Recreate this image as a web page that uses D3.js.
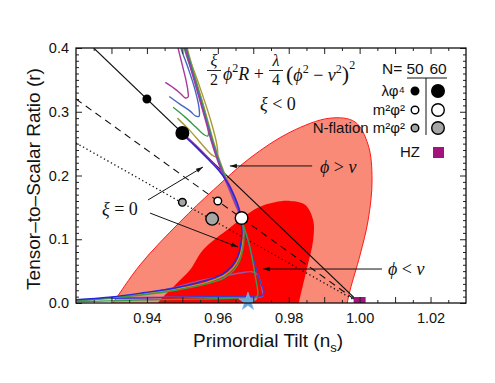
<!DOCTYPE html>
<html>
<head>
<meta charset="utf-8">
<script src="https://cdn.jsdelivr.net/npm/d3@7/dist/d3.min.js"></script>
<style>
  body { margin: 0; background: #fff; }
  text { font-family: "Liberation Sans", Arial, sans-serif; fill: #111; }
  .math { font-family: "Liberation Serif", "DejaVu Serif", serif; }
</style>
</head>
<body>
<div id="chart"></div>
<script>
// all points are [n_s, r]

// Planck-like likelihood contours (95% and 68%)
const contour95 = [[0.9290,-0.01],[0.9304,0],[0.9381,0.060],[0.9493,0.127],[0.9587,0.177],[0.9691,0.2275],
  [0.9804,0.268],[0.9917,0.290],[0.9987,0.284],[1.0024,0.248],[1.0035,0.193],[1.0024,0.130],
  [1.0001,0.075],[0.9973,0.020],[0.9965,0],[0.9963,-0.01]];
const contour68 = [[0.9425,-0.01],[0.9431,0],[0.9479,0.028],[0.9522,0.052],[0.9558,0.083],[0.9634,0.118],
  [0.9711,0.149],[0.9761,0.158],[0.9804,0.160],[0.9846,0.154],[0.9869,0.130],[0.9869,0.099],
  [0.9854,0.060],[0.9840,0.028],[0.9829,0],[0.9828,-0.01]];

// reference lines through the N=50/60 points
const lineSolid  = [[0.925, 0.4], [1.0, 0.0]];
const lineDashed = [[0.92, 0.32], [1.0, 0.0]];
const lineDotted = [[0.92, 0.251], [1.0, 0.0]];

// model points, N = 50 then N = 60
const lambdaPhi4 = [[0.94, 0.32], [0.95, 0.2667]];
const m2Phi2     = [[0.96, 0.16], [0.9667, 0.1333]];
const nflation   = [[0.95, 0.158], [0.9584, 0.132]];
const hzPoint    = [[1.0, 0.0]];
const starPoint  = [[0.9685, 0.002]];

// phi > v branch, xi < 0 (hooks)
const hookMagenta = [[0.9452,0.346],[0.9476,0.337],[0.9496,0.328],[0.9507,0.322],[0.9516,0.323],[0.9516,0.331],[0.9510,0.350],[0.9499,0.375],[0.9488,0.400],[0.9482,0.416]];
const hookBlue    = [[0.9463,0.324],[0.9493,0.312],[0.9522,0.301],[0.9538,0.293],[0.9547,0.293],[0.9547,0.306],[0.9536,0.334],[0.9516,0.369],[0.9496,0.400],[0.9490,0.416]];
const hookGreen   = [[0.9474,0.307],[0.9507,0.292],[0.9538,0.276],[0.9561,0.264],[0.9572,0.262],[0.9572,0.278],[0.9558,0.312],[0.9530,0.358],[0.9505,0.400],[0.9499,0.416]];
const hookOlive   = [[0.9486,0.290],[0.9522,0.270],[0.9555,0.249],[0.9584,0.232],[0.9598,0.229],[0.9598,0.246],[0.9578,0.290],[0.9544,0.347],[0.9510,0.400],[0.9505,0.416]];

// phi > v branch coming back down to the m^2 phi^2 point
const descMagenta = [[0.9505,0.416],[0.9508,0.400],[0.9525,0.365],[0.9545,0.326],[0.9565,0.287],[0.9582,0.253],[0.9599,0.224],[0.9616,0.199],[0.9633,0.177],[0.9649,0.155],[0.9661,0.140],[0.9667,0.127]];
const descBlue    = [[0.9507,0.416],[0.9510,0.400],[0.9527,0.365],[0.9547,0.326],[0.9567,0.287],[0.9584,0.253],[0.9601,0.224],[0.9618,0.199],[0.9635,0.177],[0.9651,0.155],[0.9662,0.140],[0.9668,0.127]];
const descGreen   = [[0.9509,0.416],[0.9512,0.400],[0.9529,0.365],[0.9549,0.326],[0.9569,0.287],[0.9586,0.253],[0.9603,0.224],[0.9620,0.199],[0.9636,0.177],[0.9652,0.155],[0.9663,0.140],[0.9669,0.127]];
const descOlive   = [[0.9511,0.416],[0.9514,0.400],[0.9531,0.365],[0.9551,0.326],[0.9571,0.287],[0.9588,0.253],[0.9605,0.224],[0.9622,0.199],[0.9638,0.177],[0.9653,0.155],[0.9664,0.140],[0.9670,0.127]];

// xi = 0 curves
const xi0Upper    = [[0.9499,0.265],[0.9536,0.246],[0.9570,0.227],[0.9601,0.209],[0.9626,0.190],[0.9646,0.168],[0.9660,0.147],[0.9665,0.132],[0.9667,0.125]];
const smallXiUpper= [[0.9502,0.266],[0.9539,0.247],[0.9573,0.228],[0.9604,0.209],[0.9628,0.190],[0.9647,0.168],[0.9661,0.147],[0.9666,0.132]];
const xi0Lower    = [[0.9665,0.132],[0.9668,0.111],[0.9665,0.093],[0.9657,0.074],[0.9640,0.058],[0.9612,0.045],[0.9564,0.035],[0.9482,0.024],[0.9389,0.016],[0.9293,0.009],[0.9200,0.005]];

// phi < v branch
const lowerOlive  = [[0.9669,0.126],[0.9672,0.108],[0.9669,0.090],[0.9660,0.071],[0.9643,0.055],[0.9614,0.042],[0.9566,0.032],[0.9482,0.022],[0.9389,0.014],[0.9293,0.008],[0.9200,0.004]];
const lowerGreen  = [[0.9671,0.124],[0.9674,0.105],[0.9671,0.086],[0.9662,0.067],[0.9646,0.052],[0.9617,0.039],[0.9567,0.030],[0.9482,0.020],[0.9389,0.013],[0.9293,0.008],[0.9200,0.003]];
const rightGreen  = [[0.9671,0.124],[0.9682,0.105],[0.9691,0.086],[0.9699,0.064],[0.9705,0.044],[0.9711,0.025],[0.9713,0.014],[0.9708,0.009],[0.9663,0.008],[0.9550,0.006],[0.9409,0.005],[0.9200,0.002]];
const rightBlue   = [[0.9668,0.127],[0.9684,0.099],[0.9699,0.071],[0.9711,0.049],[0.9722,0.030],[0.9730,0.019],[0.9727,0.012],[0.9705,0.011],[0.9550,0.010],[0.9409,0.008],[0.9293,0.007],[0.9200,0.004]];
const loopViolet  = [[0.9293,0.008],[0.9381,0.014],[0.9482,0.025],[0.9550,0.035],[0.9615,0.042],[0.9663,0.047],[0.9696,0.049],[0.9711,0.045],[0.9719,0.036],[0.9725,0.020],[0.9727,0.011],[0.9705,0.009],[0.9600,0.009],[0.9450,0.009],[0.9293,0.008]];

// ticks
const xTickLabels = [0.94, 0.96, 0.98, 1.00, 1.02];
const yTickLabels = [0.0, 0.1, 0.2, 0.3, 0.4];

const W = 495, H = 383;
const x = d3.scaleLinear().domain([0.92, 1.03]).range([76, 466]);
const y = d3.scaleLinear().domain([0, 0.4]).range([303, 48]);

const svg = d3.select("#chart").append("svg")
    .attr("width", W).attr("height", H);

const defs = svg.append("defs");
defs.append("clipPath").attr("id", "plot")
  .append("rect").attr("x", 76).attr("y", 48).attr("width", 390).attr("height", 255);
defs.append("marker").attr("id", "arrow")
    .attr("viewBox", "0 -4 10 8").attr("refX", 10).attr("refY", 0)
    .attr("markerWidth", 7).attr("markerHeight", 6).attr("markerUnits", "userSpaceOnUse")
    .attr("orient", "auto")
  .append("path").attr("d", "M0,-3.2L10,0L0,3.2Z").attr("fill", "#111");

const plot = svg.append("g").attr("clip-path", "url(#plot)");

// contours
const smooth = d3.line().x(d => x(d[0])).y(d => y(d[1])).curve(d3.curveCatmullRom.alpha(0.5));
plot.append("path").attr("d", smooth(contour95) + "Z")
    .attr("fill", "#f98a78").attr("stroke", "#ff1a1a").attr("stroke-width", 1);
plot.append("path").attr("d", smooth(contour68) + "Z")
    .attr("fill", "#ff0000").attr("stroke", "none");

// straight reference lines
const straight = d3.line().x(d => x(d[0])).y(d => y(d[1]));
plot.append("path").attr("d", straight(lineSolid)).attr("stroke", "#111").attr("stroke-width", 1.1).attr("fill", "none");
plot.append("path").attr("d", straight(lineDashed)).attr("stroke", "#111").attr("stroke-width", 1.1)
    .attr("stroke-dasharray", "7,5").attr("fill", "none");
plot.append("path").attr("d", straight(lineDotted)).attr("stroke", "#111").attr("stroke-width", 1.3)
    .attr("stroke-dasharray", "1.3,2.7").attr("fill", "none");

// xi curves
const curves = [
  [loopViolet, "#9a55aa"], [rightBlue, "#3a3fd0"], [rightGreen, "#3d9a48"],
  [lowerOlive, "#a89a38"], [lowerGreen, "#3d9a48"], [xi0Lower, "#2626e0"],
  [hookMagenta, "#a8389e"], [hookBlue, "#4466c2"], [hookGreen, "#3d9a48"], [hookOlive, "#a89a38"],
  [descOlive, "#a89a38"], [descGreen, "#3d9a48"], [descBlue, "#4466c2"], [descMagenta, "#a8389e"],
  [smallXiUpper, "#a8389e"], [xi0Upper, "#2626e0"]
];
const curveLine = d3.line().x(d => x(d[0])).y(d => y(d[1])).curve(d3.curveCatmullRom.alpha(0.5));
plot.selectAll(".xi").data(curves).join("path")
    .attr("class", "xi")
    .attr("d", d => curveLine(d[0]))
    .attr("fill", "none").attr("stroke", d => d[1]).attr("stroke-width", 1.4);

// HZ square (clipped at r = 0)
plot.selectAll(".hz").data(hzPoint).join("rect")
    .attr("x", d => x(d[0]) - 6).attr("y", d => y(d[1]) - 6)
    .attr("width", 12).attr("height", 12).attr("fill", "#a4127e");

// model points
function dots(g, data, fill, stroke) {
  g.selectAll(null).data(data).join("circle")
    .attr("cx", d => x(d[0])).attr("cy", d => y(d[1]))
    .attr("r", (d, i) => i === 0 ? 3.8 : 6.3)
    .attr("fill", fill).attr("stroke", stroke).attr("stroke-width", 1.4);
}
const pts = svg.append("g");
dots(pts, lambdaPhi4, "#000", "#000");
dots(pts, m2Phi2, "#fff", "#000");
dots(pts, nflation, "#a6a6a6", "#000");

// star
svg.selectAll(".star").data(starPoint).join("path")
    .attr("transform", d => `translate(${x(d[0])},${y(d[1])})`)
    .attr("d", d3.symbol(d3.symbolStar).size(105)())
    .attr("fill", "#6aa6de").attr("stroke", "#8dbbe6").attr("stroke-width", 0.6);

// axes (ticks inside on all four sides)
const xMinor = d3.range(0, 11).map(i => 0.925 + i * 0.01);
const xMajor = d3.range(0, 10).map(i => 0.93 + i * 0.01);
const yMinor = d3.range(1, 40).filter(i => i % 10).map(i => i / 100);
function tickGroup(axis, tx, ty) {
  const g = svg.append("g").attr("transform", `translate(${tx},${ty})`).call(axis);
  g.select(".domain").remove();
  g.selectAll("line").attr("stroke", "#222");
  return g;
}
tickGroup(d3.axisBottom(x).tickValues(xMinor).tickSize(-3).tickFormat(""), 0, 303);
tickGroup(d3.axisBottom(x).tickValues(xMajor).tickSize(-6).tickFormat(""), 0, 303);
tickGroup(d3.axisTop(x).tickValues(xMinor).tickSize(-3).tickFormat(""), 0, 48);
tickGroup(d3.axisTop(x).tickValues(xMajor).tickSize(-6).tickFormat(""), 0, 48);
tickGroup(d3.axisLeft(y).tickValues(yMinor).tickSize(-3).tickFormat(""), 76, 0);
tickGroup(d3.axisLeft(y).tickValues(yTickLabels).tickSize(-6).tickFormat(""), 76, 0);
tickGroup(d3.axisRight(y).tickValues(yMinor).tickSize(-3).tickFormat(""), 466, 0);
tickGroup(d3.axisRight(y).tickValues(yTickLabels).tickSize(-6).tickFormat(""), 466, 0);

const xl = tickGroup(d3.axisBottom(x).tickValues(xTickLabels).tickSize(0).tickPadding(9.5).tickFormat(d3.format(".2f")), 0, 303);
xl.selectAll("text").attr("font-size", 14.5).attr("font-family", null).attr("fill", "#111");
const yl = tickGroup(d3.axisLeft(y).tickValues(yTickLabels).tickSize(0).tickPadding(7).tickFormat(d3.format(".1f")), 76, 0);
yl.selectAll("text").attr("font-size", 14.5).attr("font-family", null).attr("fill", "#111");

svg.append("rect").attr("x", 76).attr("y", 48).attr("width", 390).attr("height", 255)
    .attr("fill", "none").attr("stroke", "#111").attr("stroke-width", 1.3);

// axis titles
const xt = svg.append("text").attr("x", 268).attr("y", 347).attr("text-anchor", "middle").attr("font-size", 19);
xt.append("tspan").text("Primordial Tilt (n");
xt.append("tspan").attr("font-size", 13).attr("dy", 5).text("s");
xt.append("tspan").attr("dy", -5).text(")");
svg.append("text").attr("transform", "translate(40,179) rotate(-90)")
    .attr("text-anchor", "middle").attr("font-size", 19)
    .text("Tensor\u2013to\u2013Scalar Ratio (r)");

// arrows
const arrows = [
  [[0.9866, 0.215], [0.9634, 0.215]],
  [[1.0063, 0.0533], [0.9727, 0.0533]],
  [[0.9403, 0.1616], [0.9558, 0.2133]],
  [[0.9409, 0.141], [0.9657, 0.0878]]
];
svg.selectAll(".arrow").data(arrows).join("line")
    .attr("x1", d => x(d[0][0])).attr("y1", d => y(d[0][1]))
    .attr("x2", d => x(d[1][0])).attr("y2", d => y(d[1][1]))
    .attr("stroke", "#111").attr("stroke-width", 1).attr("marker-end", "url(#arrow)");

// math labels
function mathText(px, py, parts) {
  const t = svg.append("text").attr("class", "math").attr("x", px).attr("y", py).attr("font-size", 18);
  parts.forEach(p => {
    const s = t.append("tspan").text(p.t);
    if (p.i) s.attr("font-style", "italic");
    if (p.fs) s.attr("font-size", p.fs);
    if (p.dy) s.attr("dy", p.dy);
  });
  return t;
}
mathText(320, 173, [{t: "\u03d5", i: 1}, {t: " > "}, {t: "v", i: 1}]);
mathText(388, 275, [{t: "\u03d5", i: 1}, {t: " < "}, {t: "v", i: 1}]);
mathText(102, 215, [{t: "\u03be", i: 1}, {t: " = 0"}]);
mathText(260, 110, [{t: "\u03be", i: 1}, {t: " < 0"}]);

function frac(cx, num, den, italicNum) {
  svg.append("text").attr("class", "math").attr("x", cx).attr("y", 66).attr("text-anchor", "middle")
     .attr("font-size", 16).attr("font-style", italicNum ? "italic" : null).text(num);
  svg.append("line").attr("x1", cx - 7).attr("x2", cx + 7).attr("y1", 70.5).attr("y2", 70.5)
     .attr("stroke", "#111").attr("stroke-width", 0.9);
  svg.append("text").attr("class", "math").attr("x", cx).attr("y", 85).attr("text-anchor", "middle")
     .attr("font-size", 16).text(den);
}
frac(214, "\u03be", "2", true);
mathText(223, 80, [{t: "\u03d5", i: 1}, {t: "2", fs: 12, dy: -8}, {t: "R", i: 1, dy: 8}, {t: " + "}]);
frac(276, "\u03bb", "4", true);
mathText(286, 81, [{t: "(", fs: 22}, {t: "\u03d5", i: 1}, {t: "2", fs: 12, dy: -8}, {t: " \u2212 ", dy: 8},
  {t: "v", i: 1}, {t: "2", fs: 12, dy: -8}, {t: ")", fs: 22, dy: 8}, {t: "2", fs: 12, dy: -12}]);

// legend
const lg = svg.append("g");
lg.append("text").attr("x", 382).attr("y", 74).attr("font-size", 15.5).text("N=");
lg.append("text").attr("x", 415).attr("y", 74).attr("font-size", 15.5).attr("text-anchor", "middle").text("50");
lg.append("text").attr("x", 438).attr("y", 74).attr("font-size", 15.5).attr("text-anchor", "middle").text("60");
lg.append("line").attr("x1", 407).attr("x2", 447).attr("y1", 78).attr("y2", 78).attr("stroke", "#111").attr("stroke-width", 1);
lg.append("line").attr("x1", 426).attr("x2", 426).attr("y1", 78).attr("y2", 135).attr("stroke", "#111").attr("stroke-width", 1);
const rows = [
  ["\u03bb\u03c6\u2074", "#000", 91],
  ["m\u00b2\u03c6\u00b2", "#fff", 110],
  ["N-flation m\u00b2\u03c6\u00b2", "#a6a6a6", 128]
];
rows.forEach(r => {
  lg.append("text").attr("x", 405).attr("y", r[2] + 5).attr("text-anchor", "end").attr("font-size", 15).text(r[0]);
  lg.append("circle").attr("cx", 415).attr("cy", r[2]).attr("r", 3.8).attr("fill", r[1]).attr("stroke", "#000").attr("stroke-width", 1.4);
  lg.append("circle").attr("cx", 438).attr("cy", r[2]).attr("r", 6.3).attr("fill", r[1]).attr("stroke", "#000").attr("stroke-width", 1.4);
});
lg.append("text").attr("x", 420).attr("y", 157).attr("text-anchor", "end").attr("font-size", 15).text("HZ");
lg.append("rect").attr("x", 433).attr("y", 147).attr("width", 11).attr("height", 11).attr("fill", "#a4127e");
</script>
</body>
</html>
